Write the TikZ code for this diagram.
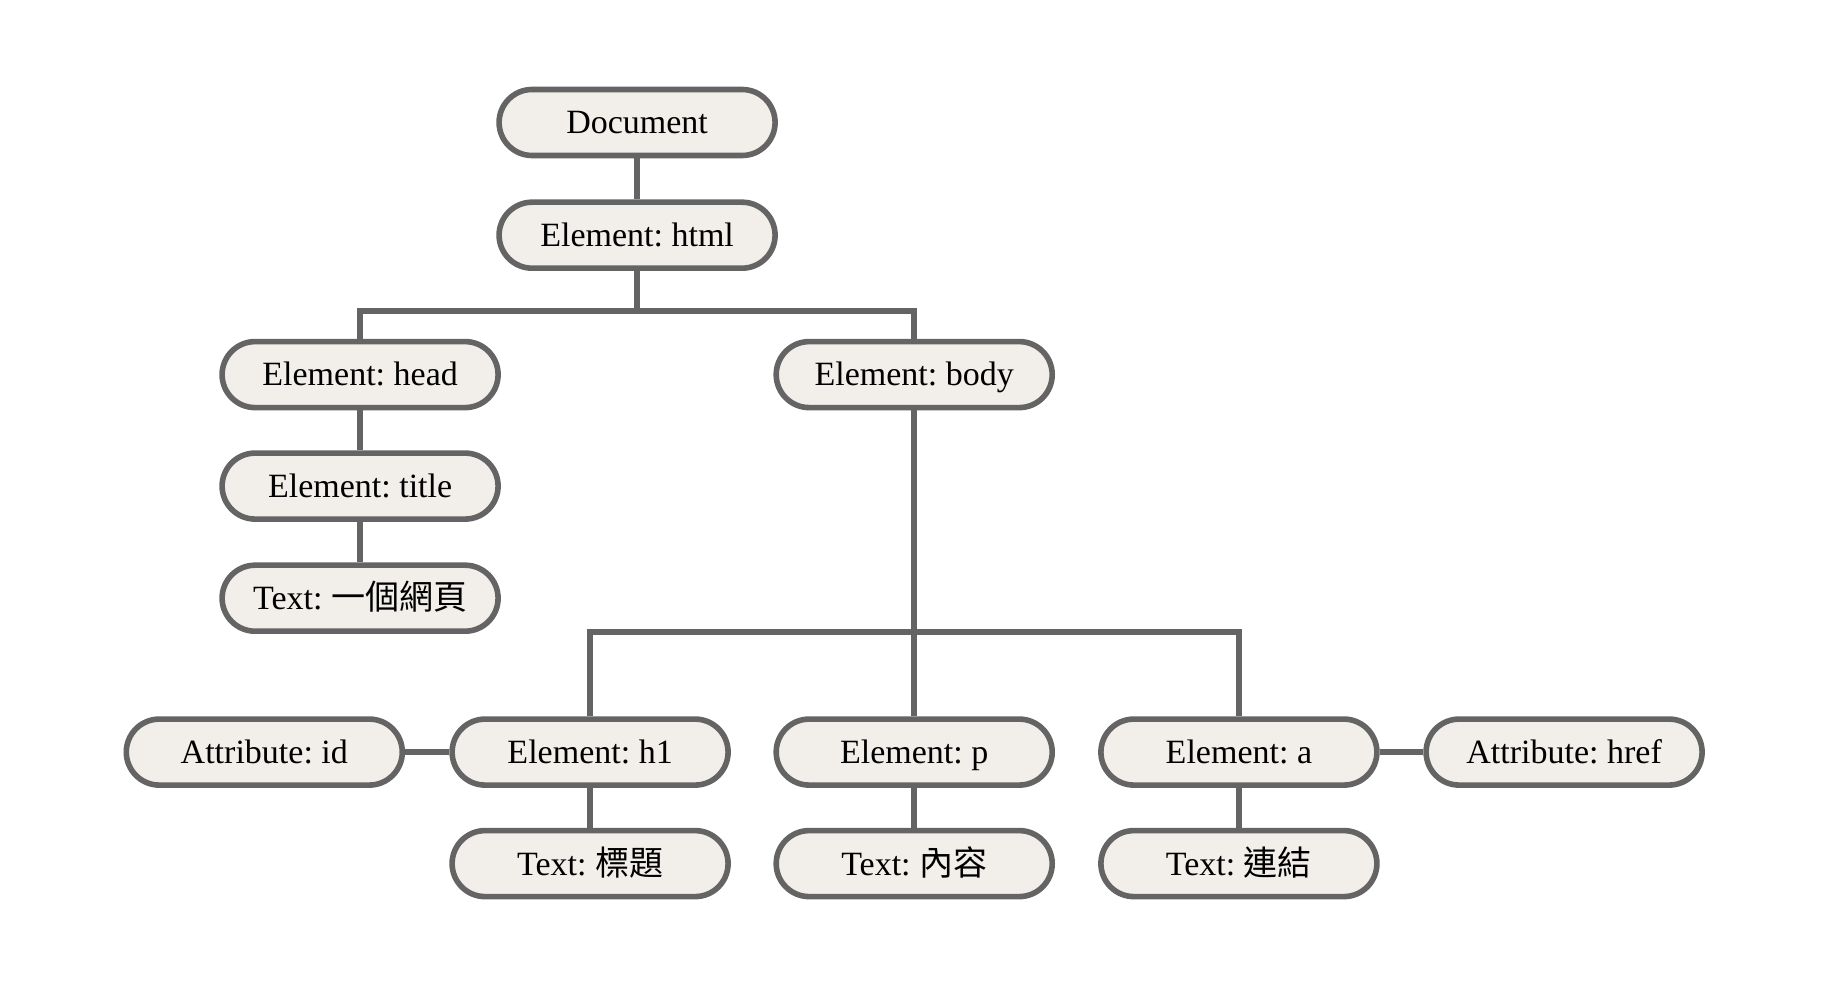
\documentclass[tikz,border=0pt]{standalone}
\usepackage{fontspec}
\setmainfont{Liberation Serif}
\newfontfamily\cjk{Noto Sans CJK TC}
\definecolor{boxfill}{HTML}{F2EEE9}
\definecolor{boxline}{HTML}{646464}
\frenchspacing
\begin{document}
\begin{tikzpicture}[x=0.5pt,y=-0.5pt,
  dom/.style={draw=boxline, fill=boxfill, line width=2.8pt, rounded corners=16.5pt,
    minimum width=138pt, minimum height=33pt, inner sep=0pt,
    text height=11.4pt, text depth=0pt,
    font=\fontsize{17}{20}\selectfont},
  link/.style={draw=boxline, line width=2.8pt}]
\useasboundingbox (0,0) rectangle (1822,994);
\node[dom] (doc) at (637.1,122.5) {Document};
\node[dom] (html) at (637.1,235.2) {Element: html};
\node[dom] (head) at (360.1,374.6) {Element: head};
\node[dom] (body) at (914.2,374.6) {Element: body};
\node[dom] (title) at (360.1,486.1) {Element: title};
\node[dom] (ttext) at (360.1,598.2) {Text: {\cjk 一個網頁}};
\node[dom] (id) at (264.3,752.1) {Attribute: id};
\node[dom] (h1) at (590.1,752.1) {Element: h1};
\node[dom] (p) at (914.2,752.1) {Element: p};
\node[dom] (a) at (1238.9,752.1) {Element: a};
\node[dom] (href) at (1564.1,752.1) {Attribute: href};
\node[dom] (h1text) at (590.1,863.6) {Text: {\cjk 標題}};
\node[dom] (ptext) at (914.2,863.6) {Text: {\cjk 內容}};
\node[dom] (atext) at (1238.9,863.6) {Text: {\cjk 連結}};
\coordinate (j1) at (637.1,311.3);
\coordinate (j2) at (914.2,631.9);
\draw[link] (doc.south) -- (html.north);
\draw[link] (html.south) -- (j1);
\draw[link] (head.north) |- (j1) -| (body.north);
\draw[link] (head.south) -- (title.north);
\draw[link] (title.south) -- (ttext.north);
\draw[link] (body.south) -- (p.north);
\draw[link] (h1.north) |- (j2) -| (a.north);
\draw[link] (id.east) -- (h1.west);
\draw[link] (a.east) -- (href.west);
\draw[link] (h1.south) -- (h1text.north);
\draw[link] (p.south) -- (ptext.north);
\draw[link] (a.south) -- (atext.north);
\end{tikzpicture}
\end{document}
